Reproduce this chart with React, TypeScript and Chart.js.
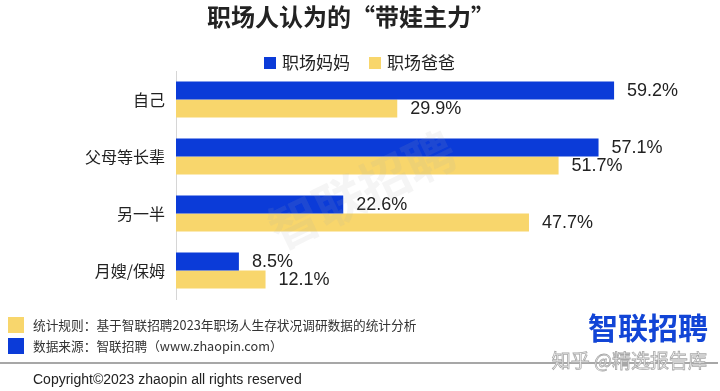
import React, { useEffect, useRef } from "react";
import { Chart, registerables } from "chart.js";

Chart.register(...registerables);

const title = "职场人认为的“带娃主力”";
const categories = ["自己", "父母等长辈", "另一半", "月嫂/保姆"];
const seriesNames = ["职场妈妈", "职场爸爸"];
const momValues = [59.2, 57.1, 22.6, 8.5];
const dadValues = [29.9, 51.7, 47.7, 12.1];
const seriesColors = ["#0b3bd8", "#f8d66c"];
const noteRule = "统计规则：基于智联招聘2023年职场人生存状况调研数据的统计分析";
const noteSource = "数据来源：智联招聘（www.zhaopin.com）";
const copyright = "Copyright©2023 zhaopin all rights reserved";
const logoText = "智联招聘";
const zhihuMark = "知乎 @精选报告库";

const CJK = '"Noto Sans CJK SC", "Noto Sans", sans-serif';
const LAT = '"Liberation Sans", "Noto Sans CJK SC", sans-serif';

const decorPlugin = {
  id: "decor",
  afterDatasetsDraw(chart: any) {
    const ctx = chart.ctx;
    // value labels
    ctx.save();
    ctx.font = `18px ${LAT}`;
    ctx.fillStyle = "#222";
    ctx.textAlign = "left";
    ctx.textBaseline = "middle";
    chart.data.datasets.forEach((ds: any, di: number) => {
      const meta = chart.getDatasetMeta(di);
      meta.data.forEach((el: any, i: number) => {
        ctx.fillText(ds.data[i].toFixed(1) + "%", el.x + 13, el.y + 1);
      });
    });
    ctx.restore();
    // diagonal watermark
    ctx.save();
    ctx.translate(362, 190);
    ctx.rotate(-0.45);
    ctx.font = `bold 50px ${CJK}`;
    ctx.fillStyle = "rgba(170,170,170,0.12)";
    ctx.textAlign = "center";
    ctx.textBaseline = "middle";
    ctx.fillText(logoText, 0, 0);
    ctx.restore();
  },
  afterDraw(chart: any) {
    const ctx = chart.ctx;
    ctx.save();
    // title
    ctx.font = `bold 24px ${CJK}`;
    ctx.fillStyle = "#222";
    ctx.textAlign = "center";
    ctx.textBaseline = "middle";
    ctx.fillText(title, 351, 17);
    // legend
    ctx.font = `17px ${CJK}`;
    ctx.textAlign = "left";
    let x = 264;
    chart.data.datasets.forEach((ds: any) => {
      ctx.fillStyle = ds.backgroundColor;
      ctx.fillRect(x, 57, 12, 12);
      ctx.fillStyle = "#222";
      ctx.fillText(ds.label, x + 18, 63);
      x += 18 + ctx.measureText(ds.label).width + 19;
    });
    // footer notes
    ctx.fillStyle = seriesColors[1];
    ctx.fillRect(8, 317, 16, 16);
    ctx.fillStyle = seriesColors[0];
    ctx.fillRect(8, 338, 16, 16);
    ctx.font = `12.7px ${CJK}`;
    ctx.fillStyle = "#333";
    ctx.fillText(noteRule, 33, 325);
    ctx.fillText(noteSource, 33, 346);
    // separator
    ctx.strokeStyle = "#8a8a8a";
    ctx.lineWidth = 1.5;
    ctx.beginPath();
    ctx.moveTo(0, 363);
    ctx.lineTo(718, 363);
    ctx.stroke();
    // copyright
    ctx.font = `14px ${LAT}`;
    ctx.fillStyle = "#222";
    ctx.fillText(copyright, 33, 380);
    // logo
    ctx.font = `bold 30px ${CJK}`;
    ctx.fillStyle = "#1245d6";
    ctx.textAlign = "right";
    ctx.fillText(logoText, 708, 328);
    // zhihu mark (outlined)
    ctx.font = `19px ${CJK}`;
    ctx.fillStyle = "#ffffff";
    ctx.fillText(zhihuMark, 707, 361);
    ctx.strokeStyle = "#a8a8a8";
    ctx.lineWidth = 0.8;
    ctx.strokeText(zhihuMark, 707, 361);
    ctx.restore();
  },
};

export default function App() {
  const ref = useRef<HTMLCanvasElement>(null);
  useEffect(() => {
    if (!ref.current) return;
    const chart = new Chart(ref.current, {
      type: "bar",
      data: {
        labels: categories,
        datasets: [
          { label: seriesNames[0], data: momValues, backgroundColor: seriesColors[0] },
          { label: seriesNames[1], data: dadValues, backgroundColor: seriesColors[1] },
        ],
      },
      options: {
        indexAxis: "y",
        animation: false,
        responsive: true,
        maintainAspectRatio: false,
        layout: { padding: { top: 71, bottom: 92, left: 0, right: 26 } },
        datasets: { bar: { barPercentage: 1, categoryPercentage: 36 / 57 } },
        plugins: { legend: { display: false }, title: { display: false }, tooltip: { enabled: false } },
        scales: {
          x: { display: false, min: 0, max: 70 },
          y: {
            grid: { display: false, drawTicks: false },
            border: { display: true, color: "#d6d6d6", width: 1 },
            ticks: { color: "#222", font: { size: 16, family: CJK }, padding: 11 },
            afterFit: (s: any) => { s.width = 176; },
          },
        },
      } as any,
      plugins: [decorPlugin],
    });
    return () => chart.destroy();
  }, []);
  return (
    <div style={{ position: "absolute", left: 0, top: 0, width: 720, height: 391, background: "#fff" }}>
      <canvas ref={ref} />
    </div>
  );
}
